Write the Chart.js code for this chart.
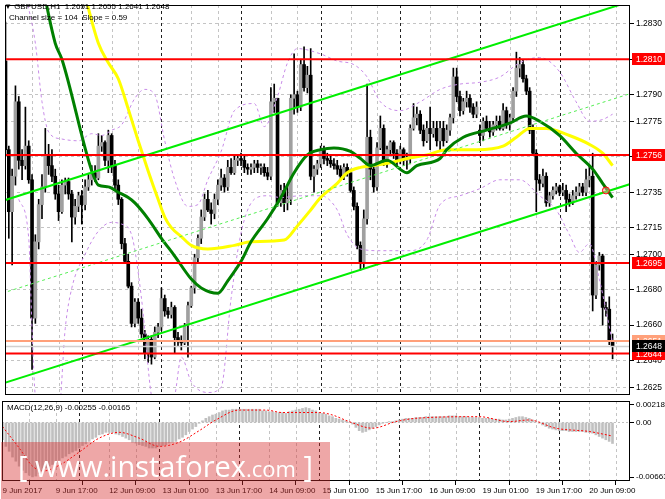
<!DOCTYPE html>
<html>
<head>
<meta charset="utf-8">
<title>GBPUSD H1</title>
<script src="https://cdn.jsdelivr.net/npm/chart.js@4.4.1/dist/chart.umd.min.js"></script>
<style>
  html, body { margin: 0; padding: 0; background: #fff; }
  #box { position: relative; width: 665px; height: 499px; overflow: hidden; font-family: 'Liberation Sans', Arial, sans-serif; }
  canvas { position: absolute; left: 0; }
  #main { top: 0; }
  #macd { top: 400px; }
  .txt { position: absolute; font-size: 8px; line-height: 10px; color: #000; white-space: pre; }
  #wm { position: absolute; left: 1px; top: 442px; width: 329px; height: 57px; background: rgba(215, 45, 45, 0.42); }
  #wmText { position: absolute; left: 18px; top: 437px; color: #fff; font-family: 'Open Sans', sans-serif; font-size: 29px; line-height: 57px; white-space: pre; }
</style>
</head>
<body>
<div id="box">
  <canvas id="main" width="665" height="400"></canvas>
  <canvas id="macd" width="665" height="99"></canvas>
  <div class="txt" id="head1" style="left:4px;top:2px"></div>
  <div class="txt" id="head2" style="left:9px;top:13px"></div>
  <div class="txt" id="macdHead" style="left:7px;top:403px"></div>
  <div id="wm"></div>
  <div id="wmText">[ www.instaforex<span style="font-size:22px">.com</span> ]</div>
</div>
<script>
// GBPUSD H1, 9 Jun 2017 01:00 .. 20 Jun 2017 16:00 (bar index 0..183)
const opens = [
  1.2809,1.2759,1.2724,1.2744,1.2786,1.2753,1.2750,1.2761,1.2742,1.2664,
  1.2707,1.2728,1.2738,1.2756,1.2750,1.2744,1.2734,1.2724,1.2739,1.2741,
  1.2734,1.2721,1.2727,1.2733,1.2728,1.2738,1.2742,1.2746,1.2743,1.2761,
  1.2763,1.2753,1.2767,1.2750,1.2739,1.2731,1.2706,1.2696,1.2682,1.2661,
  1.2673,1.2664,1.2655,1.2644,1.2652,1.2642,1.2656,1.2659,1.2675,1.2668,
  1.2666,1.2670,1.2653,1.2651,1.2650,1.2660,1.2671,1.2681,1.2698,1.2709,
  1.2721,1.2731,1.2725,1.2723,1.2731,1.2739,1.2743,1.2738,1.2749,1.2746,
  1.2753,1.2754,1.2753,1.2749,1.2748,1.2749,1.2751,1.2749,1.2749,1.2746,
  1.2744,1.2786,1.2788,1.2729,1.2736,1.2729,1.2731,1.2788,1.2790,1.2783,
  1.2807,1.2794,1.2801,1.2744,1.2748,1.2751,1.2759,1.2754,1.2753,1.2751,
  1.2750,1.2748,1.2744,1.2749,1.2746,1.2736,1.2727,1.2705,1.2695,1.2720,
  1.2766,1.2748,1.2738,1.2760,1.2771,1.2753,1.2759,1.2763,1.2757,1.2753,
  1.2759,1.2753,1.2754,1.2771,1.2777,1.2779,1.2770,1.2764,1.2771,1.2768,
  1.2771,1.2764,1.2771,1.2764,1.2770,1.2777,1.2800,1.2789,1.2781,1.2786,
  1.2788,1.2783,1.2779,1.2770,1.2767,1.2775,1.2771,1.2769,1.2773,1.2775,
  1.2771,1.2781,1.2773,1.2777,1.2792,1.2805,1.2807,1.2799,1.2792,1.2770,
  1.2757,1.2742,1.2740,1.2744,1.2729,1.2733,1.2736,1.2738,1.2735,1.2736,
  1.2731,1.2729,1.2733,1.2735,1.2738,1.2735,1.2742,1.2744,1.2677,1.2694,
  1.2699,1.2670,1.2669,1.2651
];
const highs = [
  1.2831,1.2761,1.2748,1.2795,1.2789,1.2759,1.2783,1.2764,1.2745,1.2711,
  1.2731,1.2745,1.2771,1.2762,1.2759,1.2748,1.2739,1.2742,1.2743,1.2743,
  1.2736,1.2731,1.2735,1.2736,1.2742,1.2745,1.2750,1.2750,1.2768,1.2767,
  1.2764,1.2770,1.2768,1.2753,1.2742,1.2732,1.2709,1.2700,1.2684,1.2675,
  1.2675,1.2669,1.2657,1.2654,1.2654,1.2659,1.2661,1.2681,1.2677,1.2670,
  1.2673,1.2671,1.2656,1.2654,1.2661,1.2673,1.2682,1.2700,1.2711,1.2725,
  1.2734,1.2736,1.2729,1.2734,1.2742,1.2748,1.2745,1.2753,1.2754,1.2756,
  1.2756,1.2757,1.2756,1.2751,1.2751,1.2753,1.2753,1.2751,1.2751,1.2749,
  1.2794,1.2796,1.2788,1.2739,1.2740,1.2739,1.2790,1.2813,1.2792,1.2810,
  1.2817,1.2806,1.2816,1.2750,1.2753,1.2761,1.2761,1.2757,1.2756,1.2754,
  1.2753,1.2750,1.2751,1.2751,1.2748,1.2738,1.2729,1.2707,1.2725,1.2796,
  1.2770,1.2750,1.2763,1.2778,1.2773,1.2761,1.2764,1.2764,1.2759,1.2761,
  1.2760,1.2757,1.2773,1.2785,1.2783,1.2781,1.2773,1.2775,1.2783,1.2775,
  1.2775,1.2775,1.2775,1.2773,1.2779,1.2805,1.2805,1.2792,1.2788,1.2792,
  1.2790,1.2785,1.2786,1.2773,1.2777,1.2778,1.2775,1.2775,1.2778,1.2778,
  1.2785,1.2783,1.2779,1.2794,1.2814,1.2811,1.2810,1.2801,1.2794,1.2773,
  1.2759,1.2745,1.2748,1.2746,1.2735,1.2738,1.2740,1.2739,1.2740,1.2739,
  1.2734,1.2736,1.2738,1.2740,1.2740,1.2748,1.2750,1.2757,1.2696,1.2701,
  1.2700,1.2673,1.2676,1.2655
];
const lows = [
  1.2756,1.2709,1.2694,1.2739,1.2748,1.2742,1.2748,1.2740,1.2635,1.2661,
  1.2703,1.2720,1.2735,1.2745,1.2741,1.2731,1.2719,1.2723,1.2734,1.2731,
  1.2707,1.2717,1.2724,1.2717,1.2725,1.2736,1.2739,1.2741,1.2742,1.2758,
  1.2750,1.2746,1.2746,1.2736,1.2728,1.2703,1.2695,1.2681,1.2659,1.2659,
  1.2661,1.2653,1.2641,1.2639,1.2638,1.2641,1.2653,1.2657,1.2665,1.2664,
  1.2664,1.2644,1.2648,1.2646,1.2649,1.2642,1.2670,1.2678,1.2695,1.2706,
  1.2719,1.2724,1.2717,1.2720,1.2728,1.2736,1.2735,1.2736,1.2745,1.2745,
  1.2750,1.2750,1.2746,1.2745,1.2745,1.2746,1.2746,1.2745,1.2744,1.2742,
  1.2742,1.2780,1.2727,1.2727,1.2724,1.2725,1.2728,1.2779,1.2780,1.2781,
  1.2792,1.2791,1.2742,1.2735,1.2745,1.2749,1.2751,1.2750,1.2749,1.2748,
  1.2745,1.2742,1.2742,1.2744,1.2735,1.2725,1.2703,1.2691,1.2692,1.2717,
  1.2742,1.2735,1.2736,1.2759,1.2750,1.2749,1.2756,1.2754,1.2750,1.2751,
  1.2750,1.2748,1.2751,1.2770,1.2773,1.2768,1.2761,1.2763,1.2759,1.2766,
  1.2761,1.2759,1.2761,1.2763,1.2767,1.2774,1.2786,1.2778,1.2779,1.2783,
  1.2780,1.2777,1.2777,1.2763,1.2764,1.2770,1.2766,1.2767,1.2770,1.2770,
  1.2770,1.2771,1.2770,1.2775,1.2789,1.2800,1.2797,1.2790,1.2768,1.2756,
  1.2724,1.2736,1.2738,1.2727,1.2727,1.2731,1.2734,1.2733,1.2733,1.2724,
  1.2727,1.2728,1.2731,1.2733,1.2733,1.2733,1.2738,1.2668,1.2675,1.2691,
  1.2660,1.2665,1.2649,1.2641
];
const closes = [
  1.2759,1.2724,1.2744,1.2786,1.2753,1.2750,1.2761,1.2742,1.2664,1.2707,
  1.2728,1.2738,1.2756,1.2750,1.2744,1.2734,1.2724,1.2739,1.2741,1.2734,
  1.2721,1.2727,1.2733,1.2728,1.2738,1.2742,1.2746,1.2743,1.2761,1.2763,
  1.2753,1.2767,1.2750,1.2739,1.2731,1.2706,1.2696,1.2682,1.2661,1.2673,
  1.2664,1.2655,1.2644,1.2652,1.2642,1.2656,1.2659,1.2675,1.2668,1.2666,
  1.2670,1.2653,1.2651,1.2650,1.2660,1.2671,1.2681,1.2698,1.2709,1.2721,
  1.2731,1.2725,1.2723,1.2731,1.2739,1.2743,1.2738,1.2749,1.2746,1.2753,
  1.2754,1.2753,1.2749,1.2748,1.2749,1.2751,1.2749,1.2749,1.2746,1.2744,
  1.2786,1.2788,1.2729,1.2736,1.2729,1.2731,1.2788,1.2790,1.2783,1.2807,
  1.2794,1.2801,1.2744,1.2748,1.2751,1.2759,1.2754,1.2753,1.2751,1.2750,
  1.2748,1.2744,1.2749,1.2746,1.2736,1.2727,1.2705,1.2695,1.2720,1.2766,
  1.2748,1.2738,1.2760,1.2771,1.2753,1.2759,1.2763,1.2757,1.2753,1.2759,
  1.2753,1.2754,1.2771,1.2777,1.2779,1.2770,1.2764,1.2771,1.2768,1.2771,
  1.2764,1.2771,1.2764,1.2770,1.2777,1.2800,1.2789,1.2781,1.2786,1.2788,
  1.2783,1.2779,1.2783,1.2767,1.2775,1.2771,1.2769,1.2773,1.2775,1.2771,
  1.2781,1.2773,1.2777,1.2792,1.2805,1.2807,1.2799,1.2792,1.2770,1.2757,
  1.2742,1.2740,1.2744,1.2729,1.2733,1.2736,1.2738,1.2735,1.2736,1.2731,
  1.2729,1.2733,1.2735,1.2738,1.2735,1.2742,1.2744,1.2677,1.2694,1.2699,
  1.2670,1.2669,1.2651,1.2648
];

// moving averages at a few bars
const greenIdx = [11,15,17,26,28,31,34,37,39,43,47,51,56,59,64,67,71,74,79,83,87,91,95,99,104,107,110,115,121,124,131,133,138,145,152,157,161,167,172,177,180,183];
const greenVal = [1.2853,1.2819,1.2810,1.2747,1.2739,1.2738,1.2735,1.2732,1.2729,1.2720,1.2709,1.2699,1.2686,1.2681,1.2678,1.2685,1.2696,1.2707,1.2720,1.2732,1.2746,1.2756,1.2759,1.2760,1.2758,1.2754,1.2750,1.2753,1.2746,1.2750,1.2754,1.2759,1.2766,1.2770,1.2774,1.2778,1.2775,1.2767,1.2757,1.2748,1.2740,1.2732];
const yellowIdx = [23,28,31,34,37,40,43,46,48,50,53,56,61,69,74,84,88,92,95,100,103,107,111,117,121,127,133,142,150,154,158,163,170,176,180,183];
const yellowVal = [1.2853,1.2819,1.2808,1.2799,1.2782,1.2764,1.2747,1.2731,1.2721,1.2715,1.2710,1.2705,1.2703,1.2705,1.2707,1.2708,1.2716,1.2725,1.2732,1.2740,1.2746,1.2749,1.2750,1.2752,1.2754,1.2756,1.2759,1.2759,1.2761,1.2766,1.2771,1.2771,1.2767,1.2762,1.2757,1.2750];

// bands (purple dashed)
const upIdx = [6,9,11,13,17,22,26,29,32,35,39,42,45,48,51,55,58,61,65,69,75,78,82,85,88,95,100,105,109,113,119,125,131,137,143,149,155,161,167,172,176,180,183];
const upVal = [1.2847,1.2819,1.2786,1.2769,1.2765,1.2764,1.2768,1.2767,1.2770,1.2773,1.2788,1.2793,1.2790,1.2764,1.2742,1.2727,1.2728,1.2742,1.2758,1.2781,1.2785,1.2772,1.2789,1.2808,1.2816,1.2813,1.2809,1.2807,1.2800,1.2786,1.2781,1.2786,1.2793,1.2796,1.2797,1.2800,1.2808,1.2811,1.2803,1.2786,1.2775,1.2776,1.2779];
const loIdx = [4,7,8,9,13,16,18,20,24,28,32,35,38,41,44,47,51,53,56,61,65,68,71,75,79,83,89,95,100,103,107,113,122,127,131,137,143,149,155,161,166,170,173,176,179,183];
const loVal = [1.2731,1.2709,1.2658,1.2620,1.2603,1.2608,1.2658,1.2681,1.2700,1.2713,1.2718,1.2717,1.2711,1.2675,1.2620,1.2606,1.2620,1.2642,1.2628,1.2622,1.2625,1.2675,1.2712,1.2731,1.2733,1.2732,1.2733,1.2733,1.2725,1.2711,1.2703,1.2702,1.2702,1.2708,1.2728,1.2733,1.2737,1.2742,1.2742,1.2733,1.2725,1.2711,1.2701,1.2706,1.2686,1.2650];

// regression channel (size 104 pips, slope 0.59)
const channelSize = 104, channelSlope = 0.59;
const chanIdx = [-1, 189];
const chanUpper = [1.2730, 1.2843];
const chanMid = [1.2678, 1.2791];
const chanLower = [1.2627, 1.2740];

// horizontal levels
const levels = [1.2810, 1.2756, 1.2695, 1.2644];
const lastOpen = 1.2651;
const lastBid = 1.2648;
const markerIdx = [181];
const markerVal = [1.2736];

// MACD(12,26,9)
const macdHist = [
  -0.0021,-0.0029,-0.0035,-0.0042,-0.0047,-0.0053,-0.0058,-0.0061,-0.0064,-0.0066,
  -0.0065,-0.0062,-0.0059,-0.0055,-0.0053,-0.0051,-0.0049,-0.0046,-0.0043,-0.0041,
  -0.0038,-0.0036,-0.0034,-0.0031,-0.0028,-0.0026,-0.0023,-0.0020,-0.0018,-0.0015,
  -0.0014,-0.0012,-0.0012,-0.0012,-0.0014,-0.0015,-0.0017,-0.0019,-0.0021,-0.0024,
  -0.0025,-0.0027,-0.0028,-0.0029,-0.0031,-0.0031,-0.0031,-0.0029,-0.0028,-0.0027,
  -0.0025,-0.0024,-0.0023,-0.0020,-0.0018,-0.0015,-0.0011,-0.0008,-0.0005,-0.0001,
  0.0002,0.0005,0.0007,0.0009,0.0010,0.0012,0.0014,0.0015,0.0015,0.0016,
  0.0016,0.0016,0.0016,0.0016,0.0016,0.0016,0.0016,0.0016,0.0014,0.0014,
  0.0013,0.0013,0.0012,0.0012,0.0012,0.0011,0.0013,0.0014,0.0015,0.0016,
  0.0017,0.0018,0.0017,0.0015,0.0014,0.0012,0.0011,0.0010,0.0008,0.0007,
  0.0005,0.0004,0.0003,0.0002,0.0000,-0.0002,-0.0006,-0.0010,-0.0012,-0.0011,
  -0.0009,-0.0007,-0.0005,-0.0003,-0.0001,0.0000,0.0001,0.0001,0.0002,0.0003,
  0.0004,0.0005,0.0005,0.0005,0.0006,0.0006,0.0006,0.0007,0.0007,0.0007,
  0.0007,0.0007,0.0007,0.0007,0.0008,0.0008,0.0008,0.0007,0.0007,0.0007,
  0.0006,0.0006,0.0006,0.0006,0.0005,0.0005,0.0005,0.0004,0.0004,0.0004,
  0.0003,0.0003,0.0004,0.0005,0.0006,0.0007,0.0007,0.0006,0.0005,0.0003,
  0.0001,-0.0001,-0.0003,-0.0005,-0.0007,-0.0008,-0.0009,-0.0010,-0.0010,-0.0010,
  -0.0011,-0.0011,-0.0011,-0.0011,-0.0011,-0.0012,-0.0012,-0.0013,-0.0015,-0.0017,
  -0.0019,-0.0021,-0.0023,-0.00255
];
const sigIdx = [0,5,9,12,17,23,29,35,41,47,53,59,64,71,79,84,89,95,99,104,111,118,124,143,152,158,166,176,183];
const sigVal = [-0.0005,-0.0031,-0.0053,-0.0059,-0.0052,-0.0036,-0.0019,-0.0012,-0.0019,-0.0029,-0.0024,-0.0010,0.0003,0.0015,0.0015,0.0012,0.0012,0.0012,0.0009,0.0001,-0.0007,0.0001,0.0005,0.0007,0.0001,0.0003,-0.0007,-0.0011,-0.00165];

// axes
const yTicks = [1.2830, 1.2810, 1.2790, 1.2775, 1.2755, 1.2735, 1.2715, 1.2700, 1.2680, 1.2660, 1.2640, 1.2625];
const macdTicks = [0.00218, 0, -0.00663];
const xTickBars = [0, 16, 32, 48, 64, 80, 96, 112, 128, 144, 160, 176];
const xTickLabels = ['9 Jun 2017', '9 Jun 17:00', '12 Jun 09:00', '13 Jun 01:00', '13 Jun 17:00', '14 Jun 09:00',
                     '15 Jun 01:00', '15 Jun 17:00', '16 Jun 09:00', '19 Jun 01:00', '19 Jun 17:00', '20 Jun 09:00'];
const gridBars = [8, 16, 32, 40, 56, 64, 80, 88, 104, 112, 128, 136, 152, 160, 176, 184];
const dayBars = [23, 47, 71, 95, 119, 143, 167];

const X_MIN = -0.15, X_MAX = 188.25;
const Y_MIN = 1.26206, Y_MAX = 1.28406;
const MACD_MIN = -0.0071, MACD_MAX = 0.0026;
const family = "'Liberation Sans', Arial, sans-serif";
Chart.defaults.font.family = family;

const last = closes.length - 1;
document.getElementById('head1').textContent =
  '\u25BC GBPUSD,H1  ' + [opens[last], highs[last], lows[last], closes[last]].map(v => v.toFixed(4)).join(' ');
document.getElementById('head2').textContent = 'Channel size = ' + channelSize + '  Slope = ' + channelSlope;
document.getElementById('macdHead').textContent =
  'MACD(12,26,9) ' + macdHist[last].toFixed(5) + ' ' + sigVal[sigVal.length - 1].toFixed(5);

const idx = closes.map((_, i) => i);
const xy = (xs, ys) => xs.map((x, k) => ({ x: x, y: ys[k] }));

function line(data, color, width, dash, order, extra) {
  return Object.assign({
    type: 'line', data: data, borderColor: color, borderWidth: width, borderDash: dash || [],
    pointRadius: 0, fill: false, order: order, clip: 0
  }, extra || {});
}

// dashed vertical grid + day separators
const vGrid = {
  id: 'vGrid',
  beforeDatasetsDraw(chart) {
    const { ctx, chartArea: a, scales: { x } } = chart;
    ctx.save();
    ctx.lineWidth = 1;
    ctx.setLineDash([3, 3]);
    const draw = (b, color) => {
      const px = Math.round(x.getPixelForValue(b)) + 0.5;
      ctx.strokeStyle = color;
      ctx.beginPath(); ctx.moveTo(px, a.top); ctx.lineTo(px, a.bottom); ctx.stroke();
    };
    gridBars.forEach(b => draw(b, '#c4c4c4'));
    dayBars.forEach(b => draw(b, '#202020'));
    ctx.restore();
  }
};

const frame = {
  id: 'frame',
  afterDraw(chart) {
    const { ctx, chartArea: a } = chart;
    ctx.save();
    ctx.strokeStyle = '#000';
    ctx.lineWidth = 1;
    ctx.strokeRect(a.left + 0.5, a.top + 0.5, a.width - 1, a.height - 1);
    ctx.restore();
  }
};

// price labels on the right axis
const tagValues = [levels[0], levels[1], levels[2], lastOpen, levels[3], lastBid];
const tagFill = ['#ff0000', '#ff0000', '#ff0000', '#ffa07a', '#ff0000', '#000000'];
const tags = {
  id: 'tags',
  afterDraw(chart) {
    const { ctx, chartArea: a, scales: { y } } = chart;
    ctx.save();
    ctx.font = '8.5px ' + family;
    ctx.textBaseline = 'middle';
    tagValues.forEach((v, k) => {
      const py = Math.round(y.getPixelForValue(v));
      ctx.fillStyle = tagFill[k];
      ctx.fillRect(a.right + 2, py - 6, 33, 12);
      ctx.fillStyle = '#fff';
      ctx.fillText(v.toFixed(4), a.right + 6, py + 0.5);
    });
    ctx.restore();
  }
};

const BULL = '#a0a0a0', BEAR = '#000000';

new Chart(document.getElementById('main'), {
  type: 'bar',
  data: {
    datasets: [
      ...levels.map(v => line(xy([X_MIN, X_MAX], [v, v]), '#ff0000', 2, null, 0)),
      line(xy([X_MIN, X_MAX], [lastOpen, lastOpen]), '#ffa07a', 2, null, 1),
      line(xy([X_MIN, X_MAX], [lastBid, lastBid]), '#d0d0d0', 1.5, null, 1),
      {
        type: 'line', data: xy(markerIdx, markerVal), showLine: false, pointRadius: 3.5,
        pointBorderColor: '#ff0000', pointBackgroundColor: 'rgba(255,150,150,0.5)', pointBorderWidth: 1, order: 0
      },
      line(xy(chanIdx, chanUpper), '#00ee00', 2, null, 2),
      line(xy(chanIdx, chanLower), '#00ee00', 2, null, 2),
      line(xy(chanIdx, chanMid), '#55ee55', 1, [3, 3], 2),
      line(xy(greenIdx, greenVal), '#008000', 3, null, 3, { cubicInterpolationMode: 'monotone' }),
      line(xy(yellowIdx, yellowVal), '#ffff00', 3, null, 4, { cubicInterpolationMode: 'monotone' }),
      line(xy(upIdx, upVal), '#c88ce8', 1, [3, 3], 5, { cubicInterpolationMode: 'monotone' }),
      line(xy(loIdx, loVal), '#c88ce8', 1, [3, 3], 5, { cubicInterpolationMode: 'monotone' }),
      {
        type: 'bar', data: idx.map(i => ({ x: i, y: [opens[i], closes[i]] })),
        backgroundColor: idx.map(i => closes[i] >= opens[i] ? BULL : BEAR),
        barThickness: 3, minBarLength: 1, grouped: false, order: 6
      },
      {
        type: 'bar', data: idx.map(i => ({ x: i, y: [lows[i], highs[i]] })),
        backgroundColor: '#000', barThickness: 1, grouped: false, order: 7
      }
    ]
  },
  options: {
    responsive: false,
    animation: false,
    events: [],
    layout: { padding: { left: 2, top: 2, bottom: 2, right: 0 } },
    plugins: { legend: { display: false }, tooltip: { enabled: false } },
    scales: {
      x: { type: 'linear', min: X_MIN, max: X_MAX, bounds: 'data', offset: false, display: false },
      y: {
        position: 'right', min: Y_MIN, max: Y_MAX, bounds: 'data',
        afterBuildTicks: s => { s.ticks = yTicks.map(v => ({ value: v })); },
        afterFit: s => { s.width = 35; s.paddingTop = 0; s.paddingBottom = 0; },
        ticks: { autoSkip: false, font: { size: 8.5 }, color: '#000', padding: 2, callback: v => v.toFixed(4) },
        grid: { color: '#c4c4c4', tickColor: '#000', tickLength: 4 },
        border: { display: false, dash: [3, 3] }
      }
    }
  },
  plugins: [vGrid, frame, tags]
});

new Chart(document.getElementById('macd'), {
  type: 'bar',
  data: {
    datasets: [
      line(xy(sigIdx, sigVal), '#ff0000', 1, [2, 2], 0, { cubicInterpolationMode: 'monotone' }),
      {
        type: 'bar', data: idx.map(i => ({ x: i, y: macdHist[i] })),
        backgroundColor: '#c0c0c0', barThickness: 2, grouped: false, order: 1
      }
    ]
  },
  options: {
    responsive: false,
    animation: false,
    events: [],
    layout: { padding: { left: 2, top: 1, bottom: 0, right: 0 } },
    plugins: { legend: { display: false }, tooltip: { enabled: false } },
    scales: {
      x: {
        type: 'linear', min: X_MIN, max: X_MAX, bounds: 'data', offset: false, position: 'bottom',
        afterBuildTicks: s => { s.ticks = xTickBars.map(v => ({ value: v })); },
        afterFit: s => { s.height = 18; s.paddingLeft = 0; s.paddingRight = 0; },
        ticks: {
          autoSkip: false, maxRotation: 0, minRotation: 0, align: 'start', padding: 1,
          font: { size: 8 }, color: '#000', callback: (v, k) => xTickLabels[k]
        },
        grid: { drawOnChartArea: false, drawTicks: true, tickLength: 4, tickColor: '#000' },
        border: { display: false }
      },
      y: {
        position: 'right', min: MACD_MIN, max: MACD_MAX, bounds: 'data',
        afterBuildTicks: s => { s.ticks = macdTicks.map(v => ({ value: v })); },
        afterFit: s => { s.width = 35; s.paddingTop = 0; s.paddingBottom = 0; },
        ticks: { autoSkip: false, font: { size: 8 }, color: '#000', padding: 2,
                 callback: v => v === 0 ? '0.00' : v.toFixed(5) },
        grid: {
          color: c => (c.tick && c.tick.value === 0) ? '#c0c0c0' : 'rgba(0,0,0,0)',
          tickColor: '#000', tickLength: 4
        },
        border: { display: false, dash: [2, 2] }
      }
    }
  },
  plugins: [vGrid, frame]
});
</script>
</body>
</html>
